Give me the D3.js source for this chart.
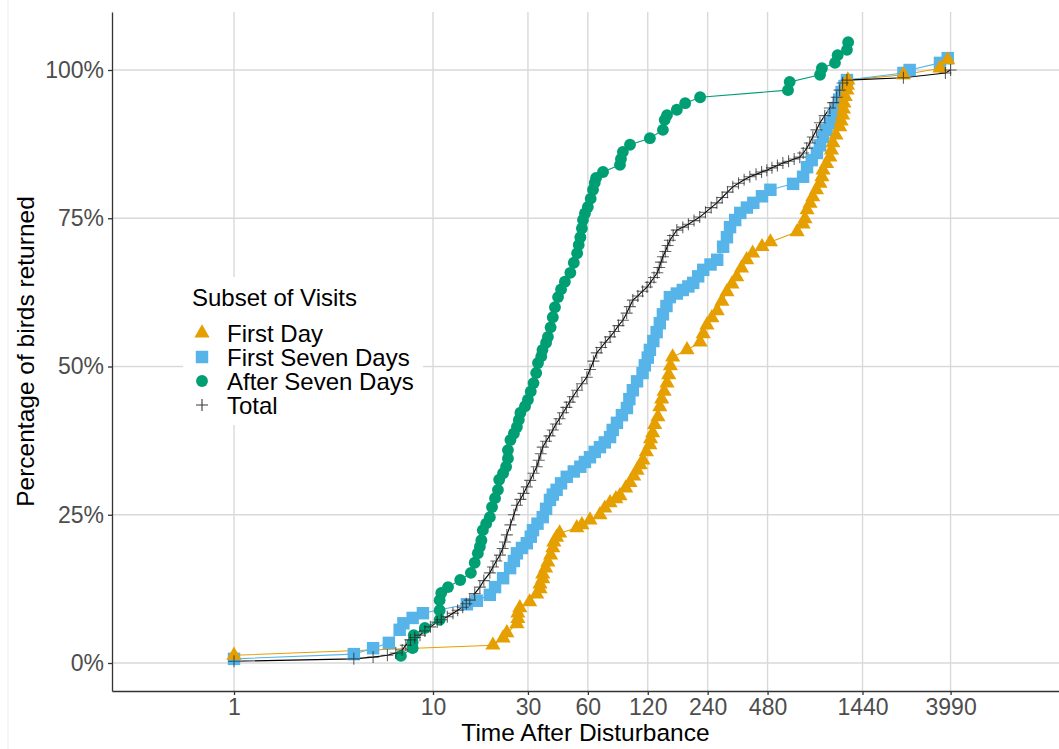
<!DOCTYPE html>
<meta charset="utf-8">
<style>
body { margin: 0; background: #fff; }
text { font-family: "Liberation Sans", Arial, sans-serif; }
.grid line { stroke: #d9d9d9; stroke-width: 1.4px; }
.axis path, .axis line { stroke: #333; stroke-width: 1.3px; }
.axis text { fill: #4d4d4d; font-size: 23px; }
</style>
<body>
<script src="https://cdn.jsdelivr.net/npm/d3@7"></script>
<script>

// tick values
var xTicks = [1, 10, 30, 60, 120, 240, 480, 1440, 3990];
var yTicks = [0, 25, 50, 75, 100];

// [minutes after disturbance, cumulative % returned]
var firstDay = [
  [1,1.3],[20,3.0],[22.5,4.2],[23.5,5.1],[26.4,6.6],[26.7,7.5],[26.7,8.4],[27.3,9.3],
  [30.6,10.3],[33.2,11.6],[34.5,12.5],[34.5,13.3],[35.6,14.2],[35.6,15.0],[36.8,16.0],
  [37.8,17.0],[39,18.2],[40,19.4],[40.5,20.4],[41.8,21.2],[43.3,21.9],[52.8,22.8],
  [56,23.3],[61.5,24.1],[69,25.0],[73,26.1],[77.6,27.0],[83,27.7],[87,28.2],[93,29.5],
  [97.7,30.4],[102,31.5],[106,32.5],[110,33.4],[113.5,34.2],[118,35.6],[123,36.8],
  [124,37.8],[127,38.8],[130,40.2],[135,41.5],[138,43.2],[141,44.5],[145,45.8],
  [150,47.2],[153,48.6],[156,50.1],[160,51.6],[189,52.8],[220,54.1],[228,55.5],
  [238,57.0],[252,58.2],[268,59.4],[283,61.0],[300,62.6],[318,63.9],[336,65.1],
  [355,66.6],[377,68.0],[404,69.1],[450,70.2],[496,71.0],[676,72.7],[724,74.0],
  [740,74.9],[758,76.4],[785,77.5],[810,78.6],[845,79.8],[880,80.9],[900,82.0],
  [912,83.1],[950,84.2],[987,85.3],[1005,86.5],[1022,87.7],[1060,89.0],[1107,90.4],
  [1125,91.4],[1144,92.4],[1155,93.4],[1163,94.4],[1180,95.5],[1203,96.6],[1210,97.4],
  [1216,98.3],[2312,99.2],[3529,100.3],[3860,101.7]
];

var firstSevenDays = [
  [1,0.7],[4.0,1.5],[5.0,2.5],[6.0,3.4],[6.8,5.6],[7.1,6.7],[7.9,7.6],[8.9,8.4],
  [14.8,9.9],[16.6,10.5],[19.3,11.5],[20.5,12.8],[22.5,14.3],[24.4,16.0],[25.5,17.2],
  [26.4,18.5],[28,19.4],[29.6,20.2],[31,21.3],[31.8,22.4],[33.5,23.5],[35.6,24.6],
  [37,26.0],[38.7,27.5],[40,28.4],[41.8,29.2],[44,30.3],[47,31.4],[51,32.3],[55,33.1],
  [58,33.9],[61.5,34.7],[65,35.6],[69,36.4],[73,37.2],[77.6,38.1],[80,39.3],[84,40.5],
  [89,41.8],[94.3,43.0],[97,44.5],[101,46.0],[106,47.5],[113,48.9],[116,50.2],
  [120,51.5],[123,52.8],[128,54.3],[133,55.8],[138,57.3],[143,58.8],[149,60.2],
  [155,61.7],[168,62.3],[180,62.9],[192,63.5],[203,64.1],[215,65.2],[228,66.3],
  [248,67.2],[268,68.0],[287,70.2],[300,71.8],[311,73.5],[330,74.7],[350,75.9],
  [378,76.8],[407,77.6],[450,78.7],[496,79.8],[645,80.8],[724,82.0],[758,83.6],
  [800,84.8],[850,86.0],[880,87.3],[912,88.7],[950,89.9],[987,91.1],[1030,92.3],
  [1068,93.6],[1100,95.0],[1130,96.3],[1170,97.3],[1203,98.3],[2312,99.5],
  [2485,100.0],[3529,101.2],[3860,102.0]
];

var afterSevenDays = [
  [6.9,1.2],[7.9,2.5],[7.9,3.5],[8.0,4.7],[9.1,5.9],[10.8,7.3],[10.8,8.9],[10.8,10.6],
  [11.0,11.8],[11.9,12.8],[13.7,14.0],[15.5,15.2],[16.2,16.9],[16.8,18.5],[17.2,19.6],
  [17.5,20.7],[17.8,22.4],[18.5,23.5],[19.3,24.6],[19.8,26.3],[20.5,27.8],[21.2,29.2],
  [21.5,30.9],[22.5,32.0],[23.3,33.1],[23.8,34.5],[23.8,35.9],[24.5,37.6],[25.5,38.7],
  [26.4,39.8],[27,41.0],[27.5,42.2],[29,43.3],[30,44.4],[31,45.8],[32,47.2],[33,48.9],
  [33.7,50.6],[35,51.7],[35.5,52.8],[37,54.0],[37.8,55.0],[39,56.6],[40,58.3],
  [41,60.0],[42.5,61.7],[44,63.0],[46,64.3],[49,65.8],[51,67.5],[53,69.1],[54,70.5],
  [55,71.8],[56,73.3],[56.7,74.7],[58,75.8],[60,76.9],[62,78.3],[63.7,79.8],[65,81.0],
  [66,81.8],[71.5,82.8],[87,84.0],[88,85.0],[90,86.2],[97.7,87.4],[123,88.5],
  [143,89.9],[146,91.6],[150,92.4],[168,93.3],[185,94.4],[220,95.4],[608,96.6],
  [620,98.0],[881,99.2],[900,100.3],[1047,101.2],[1080,102.5],[1203,103.4],[1220,104.7]
];

var total = [
  [1,0.3],[4.0,0.7],[5.0,1.0],[5.9,1.3],[6.5,1.7],[7.0,2.2],[7.3,3.0],[7.7,3.9],
  [8.1,4.3],[8.6,4.7],[9.1,5.4],[9.7,6.1],[10.5,6.9],[11.0,7.3],[11.8,7.8],[12.6,8.4],
  [13.3,8.9],[14.1,9.4],[14.7,10.0],[15.3,10.6],[16.2,11.7],[17.2,12.8],[18.0,13.9],
  [19.3,15.2],[20.0,16.2],[20.8,17.2],[21.7,18.2],[22.4,19.3],[23.0,20.4],[23.5,21.6],
  [24.5,23.3],[25.5,25.0],[26.4,26.6],[27.5,27.6],[28.5,28.6],[29.6,29.7],[30.8,30.8],
  [32.0,32.0],[33.2,33.1],[34.0,34.2],[34.8,35.3],[35.6,36.4],[37.0,37.4],[38.5,38.3],
  [40.0,39.3],[41.5,40.3],[43.2,41.2],[45,42.2],[46.8,43.1],[48.6,44.0],[50.5,44.9],
  [53,46.0],[56,47.1],[59.3,48.2],[61.5,49.5],[64,50.9],[66.5,52.3],[70,53.2],
  [73.5,54.1],[77.6,55.0],[81.5,55.9],[85.5,56.9],[90,57.8],[94,59.0],[97.5,60.1],
  [101,61.2],[107,61.9],[113,62.7],[119,63.4],[124,64.2],[129,65.0],[134,65.8],
  [137,66.7],[140,67.6],[143,68.5],[147,69.4],[151,70.4],[155,71.3],[161,72.1],
  [168,73.0],[180,73.5],[192,74.0],[205,74.6],[219,75.2],[234,76.0],[250,76.8],
  [267,77.6],[284,78.5],[302,79.4],[321,80.3],[343,80.9],[366,81.5],[391,82.0],
  [420,82.4],[448,82.8],[476,83.1],[505,83.5],[538,83.9],[573,84.3],[612,84.6],
  [653,85.0],[697,85.3],[725,86.0],[755,86.8],[782,87.7],[810,88.7],[845,89.9],
  [880,91.1],[930,92.3],[987,93.6],[1025,94.5],[1068,95.4],[1105,96.6],[1144,97.8],
  [1203,98.3],[2312,98.7],[3758,99.5],[3990,100]
];

var seriesNames = ["First Day", "First Seven Days", "After Seven Days", "Total"];
var seriesColors = ["#E69F00", "#56B4E9", "#009E73", "#000000"];

var W = 1059, H = 749;
var plotLeft = 112, plotRight = 1059, plotTop = 12, plotBottom = 691;

var svg = d3.select("body").append("svg")
    .attr("width", W)
    .attr("height", H);

// faint outer border on the left of the picture
svg.append("line")
    .attr("x1", 8).attr("x2", 8).attr("y1", 0).attr("y2", H)
    .style("stroke", "#ececec");

var x = d3.scaleLog().domain([0.2437, 13990]).range([plotLeft, plotRight]);
var y = d3.scaleLinear().domain([-4.72, 109.78]).range([plotBottom, plotTop]);

// gridlines
var grid = svg.append("g").attr("class", "grid");
grid.selectAll(".gx").data(xTicks).enter().append("line")
    .attr("x1", function(d) { return x(d); })
    .attr("x2", function(d) { return x(d); })
    .attr("y1", plotTop).attr("y2", plotBottom);
grid.selectAll(".gy").data(yTicks).enter().append("line")
    .attr("x1", plotLeft).attr("x2", plotRight)
    .attr("y1", function(d) { return y(d); })
    .attr("y2", function(d) { return y(d); });

// axes
svg.append("g")
    .attr("class", "axis")
    .attr("transform", "translate(0," + plotBottom + ")")
    .call(d3.axisBottom(x).tickValues(xTicks).tickFormat(d3.format("d"))
      .tickSize(4).tickSizeOuter(0).tickPadding(4))
    .selectAll("text").style("font-family", "Liberation Sans, Arial, sans-serif");

svg.append("g")
    .attr("class", "axis")
    .attr("transform", "translate(" + plotLeft + ",0)")
    .call(d3.axisLeft(y).tickValues(yTicks).tickFormat(function(d) { return d + "%"; })
      .tickSize(4).tickSizeOuter(0).tickPadding(4))
    .selectAll("text").style("font-family", "Liberation Sans, Arial, sans-serif");

// axis titles
svg.append("text")
    .attr("x", (plotLeft + plotRight) / 2)
    .attr("y", 741)
    .attr("text-anchor", "middle")
    .style("font-size", "24.5px")
    .style("fill", "#000")
    .text("Time After Disturbance");

svg.append("text")
    .attr("transform", "translate(34," + (plotTop + plotBottom) / 2 + ") rotate(-90)")
    .attr("text-anchor", "middle")
    .style("font-size", "24.5px")
    .style("fill", "#000")
    .text("Percentage of birds returned");

// lines
var line = d3.line()
    .x(function(d) { return x(d[0]); })
    .y(function(d) { return y(d[1]); });

var allSeries = [firstDay, firstSevenDays, afterSevenDays, total];

allSeries.forEach(function(s, i) {
  svg.append("path")
      .datum(s)
      .attr("d", line)
      .style("fill", "none")
      .style("stroke", seriesColors[i])
      .style("stroke-width", 1.1);
});

// point shapes
var shapes = [
  d3.symbol().type(d3.symbolTriangle).size(100)(),
  d3.symbol().type(d3.symbolSquare).size(155)(),
  d3.symbol().type(d3.symbolCircle).size(110)(),
  "M-6,0H6M0,-6V6"
];

function drawPoints(i) {
  svg.append("g").selectAll("path")
      .data(allSeries[i])
      .enter().append("path")
      .attr("transform", function(d) { return "translate(" + x(d[0]) + "," + y(d[1]) + ")"; })
      .attr("d", shapes[i])
      .style("fill", i == 3 ? "none" : seriesColors[i])
      .style("stroke", i == 3 ? "#222" : "none")
      .style("stroke-width", 1.1)
      .style("stroke-opacity", 0.7);
}
drawPoints(1);
drawPoints(0);
drawPoints(2);
drawPoints(3);

// legend
var legend = svg.append("g");
legend.append("rect")
    .attr("x", 183).attr("y", 277)
    .attr("width", 240).attr("height", 148)
    .style("fill", "#fff");
legend.append("text")
    .attr("x", 192).attr("y", 306)
    .style("font-size", "24px")
    .style("fill", "#000")
    .text("Subset of Visits");

seriesNames.forEach(function(name, i) {
  var cy = 333 + i * 24;
  legend.append("path")
      .attr("transform", "translate(202," + cy + ")")
      .attr("d", shapes[i])
      .style("fill", i == 3 ? "none" : seriesColors[i])
      .style("stroke", i == 3 ? "#222" : "none")
      .style("stroke-width", 1.1)
      .style("stroke-opacity", 0.9);
  legend.append("text")
      .attr("x", 227).attr("y", cy)
      .attr("dy", "0.36em")
      .style("font-size", "24px")
      .style("fill", "#000")
      .text(name);
});

</script>
